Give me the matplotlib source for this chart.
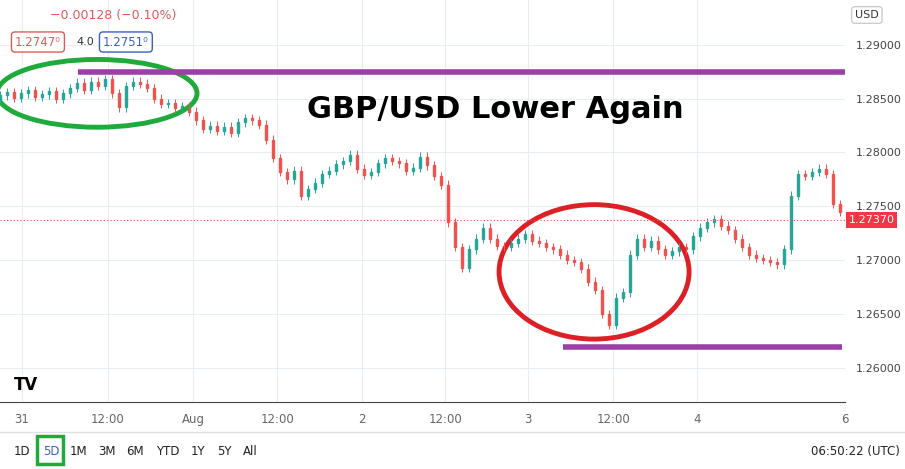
import matplotlib.pyplot as plt
from matplotlib.patches import Ellipse, Rectangle

# hourly closes, GBP/USD
closes = [1.2853, 1.2856, 1.2851, 1.2855, 1.2858, 1.2852, 1.2854, 1.2857, 1.2850, 1.2855,
          1.2860, 1.2865, 1.2858, 1.2866, 1.2862, 1.2868, 1.2855, 1.2842, 1.2862, 1.2866,
          1.2864, 1.2860, 1.2850, 1.2845, 1.2846, 1.2841, 1.2843, 1.2838, 1.2830, 1.2822,
          1.2825, 1.2820, 1.2824, 1.2818, 1.2828, 1.2832, 1.2830, 1.2826, 1.2812, 1.2795,
          1.2782, 1.2775, 1.2783, 1.2760, 1.2766, 1.2772, 1.2780, 1.2783, 1.2789, 1.2792,
          1.2798, 1.2785, 1.2779, 1.2782, 1.2790, 1.2795, 1.2792, 1.2790, 1.2783, 1.2786,
          1.2796, 1.2788, 1.2778, 1.2770, 1.2735, 1.2712, 1.2693, 1.2710, 1.2720, 1.2730,
          1.2720, 1.2713, 1.2712, 1.2716, 1.2720, 1.2724, 1.2718, 1.2716, 1.2712, 1.2710,
          1.2705, 1.2700, 1.2698, 1.2692, 1.2680, 1.2672, 1.2650, 1.2640, 1.2665, 1.2670,
          1.2705, 1.2720, 1.2712, 1.2718, 1.2710, 1.2705, 1.2708, 1.2712, 1.2710, 1.2722,
          1.2730, 1.2735, 1.2738, 1.2732, 1.2728, 1.2720, 1.2712, 1.2705, 1.2702, 1.2700,
          1.2698, 1.2696, 1.2710, 1.2760, 1.2780, 1.2778, 1.2782, 1.2785, 1.2780, 1.2752,
          1.2745, 1.2737]
first_open = 1.2850
wick = 0.0004

price_ticks = [1.26, 1.265, 1.27, 1.275, 1.28, 1.285, 1.29]
time_ticks = [3.1, 15.4, 27.6, 39.6, 51.7, 63.6, 75.4, 87.6, 99.6, 120.7]
time_labels = ["31", "12:00", "Aug", "12:00", "2", "12:00", "3", "12:00", "4", "6"]
last_price = 1.2737
resistance = 1.28749
support = 1.26195

up_col, dn_col = "#26a69a", "#ef5350"
grid_col = "#e8edf3"

fig = plt.figure(figsize=(9.05, 4.69), dpi=100)
ax = fig.add_axes([0, 67 / 469, 845 / 905, 402 / 469])

opens = [first_open] + closes[:-1]
for i, (o, c) in enumerate(zip(opens, closes)):
    col = up_col if c >= o else dn_col
    ax.vlines(i, min(o, c) - wick, max(o, c) + wick, color=col, lw=0.7)
    ax.add_patch(Rectangle((i - 0.2, min(o, c)), 0.4, max(abs(c - o), 0.00003), color=col))

ax.set_xlim(0, 120.7)
ax.set_ylim(1.2568, 1.29418)
ax.set_xticks(time_ticks)
ax.set_xticklabels(time_labels, color="#666666", fontsize=8.5)
ax.set_yticks(price_ticks)
ax.set_yticklabels([f"{p:.5f}" for p in price_ticks], color="#444444", fontsize=8)
ax.yaxis.tick_right()
ax.tick_params(length=0, pad=8)
ax.grid(True, color=grid_col, lw=0.8)
ax.set_axisbelow(True)
for s in ["top", "left", "right"]:
    ax.spines[s].set_visible(False)
ax.spines["bottom"].set_color("#444444")

# last price
ax.axhline(last_price, color=dn_col, ls=(0, (1, 2)), lw=0.8)
ax.text(121.2, last_price, f"{last_price:.5f}", color="white", fontsize=8, va="center",
        ha="left", bbox=dict(boxstyle="square,pad=0.25", fc="#f23645", ec="none"), clip_on=False)

# annotations
ax.hlines(resistance, 78 / 7, 845 / 7, color="#9c3fa6", lw=4)
ax.hlines(support, 563 / 7, 842 / 7, color="#9c3fa6", lw=4)
ax.add_patch(Ellipse((97 / 7, 1.2855), 200 / 7, 0.0063, fill=False, ec="#1faa3c", lw=3.5))
ax.add_patch(Ellipse((594 / 7, 1.2689), 190 / 7, 0.0125, fill=False, ec="#dd1f26", lw=3.5))
ax.text(495 / 7, 1.2840, "GBP/USD Lower Again", fontsize=22, fontweight="bold",
        ha="center", va="center", color="black")

# header overlay
fig.text(50 / 905, 1 - 15 / 469, "\u22120.00128 (\u22120.10%)", color="#e05a5a", fontsize=9, va="center")
fig.text(15 / 905, 1 - 42 / 469, "1.2747\u2070", color="#e05a5a", fontsize=8.5, va="center",
         bbox=dict(boxstyle="round,pad=0.3", fc="white", ec="#e05a5a"))
fig.text(76 / 905, 1 - 42 / 469, "4.0", color="#333333", fontsize=8, va="center")
fig.text(103 / 905, 1 - 42 / 469, "1.2751\u2070", color="#3b5fc0", fontsize=8.5, va="center",
         bbox=dict(boxstyle="round,pad=0.3", fc="white", ec="#3b5fc0"))
fig.text(855 / 905, 1 - 15 / 469, "USD", color="#333333", fontsize=8, va="center",
         bbox=dict(boxstyle="round,pad=0.3", fc="white", ec="#cccccc"))
fig.text(14 / 905, 1 - 385 / 469, "TV", color="black", fontsize=12, fontweight="bold", va="center")

# bottom toolbar
fig.add_artist(plt.Line2D([0, 1], [1 - 432 / 469] * 2, color="#e0e0e0", lw=1))
ranges = ["1D", "5D", "1M", "3M", "6M", "YTD", "1Y", "5Y", "All"]
xs = [14, 43, 70, 98, 126, 156, 191, 217, 243]
for r, x in zip(ranges, xs):
    fig.text(x / 905, 1 - 451 / 469, r, fontsize=8.5, va="center",
             color="#3b5fc0" if r == "5D" else "#222222")
fig.add_artist(Rectangle((37 / 905, 1 - 464 / 469), 26 / 905, 28 / 469, fill=False,
                         ec="#1faa3c", lw=2.5, transform=fig.transFigure))
fig.text(900 / 905, 1 - 451 / 469, "06:50:22 (UTC)", fontsize=8.5, va="center", ha="right", color="#222222")

fig.savefig("out.png", dpi=100)
